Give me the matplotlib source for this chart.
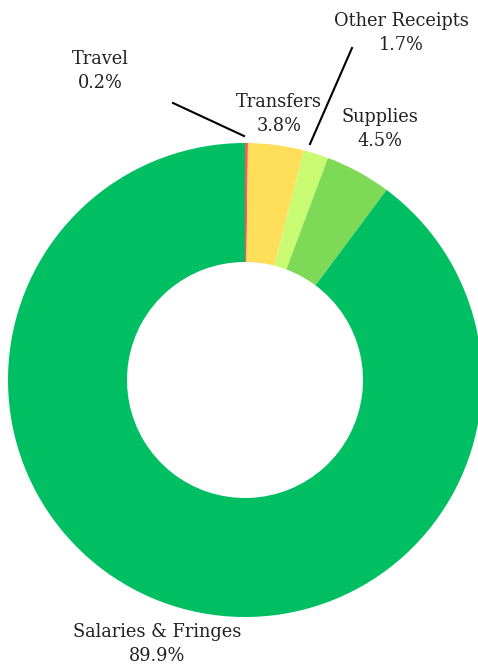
import matplotlib
matplotlib.use("Agg")
import matplotlib.pyplot as plt

categories = ["Travel", "Transfers", "Other Receipts", "Supplies", "Salaries & Fringes"]
values = [0.2, 3.8, 1.7, 4.5, 89.9]
labels_pct = ["0.2%", "3.8%", "1.7%", "4.5%", "89.9%"]
colors = ["#FF5757", "#FFDE59", "#C9FB72", "#7ED957", "#00BF63"]

W, H = 478, 666
fig = plt.figure(figsize=(W / 100, H / 100), dpi=100)
ax = fig.add_axes([0, 0, 1, 1])

cx, cy, R = 245, 380, 237
# y axis is inverted, so start at -90 (screen top) and go counterclockwise in data (= clockwise on screen)
wedges, _ = ax.pie(values, colors=colors, startangle=-90, counterclock=True,
                   radius=R, center=(cx, cy), frame=True,
                   wedgeprops=dict(width=119, linewidth=0))
ax.set_xlim(0, W)
ax.set_ylim(H, 0)
ax.set_aspect("equal")
ax.axis("off")

font = dict(family="DejaVu Serif", fontsize=12.8, color="#222222", ha="center", va="center")
label_pos = [(100, 71), (279, 114), (401, 33), (380, 129), (157, 644)]
for cat, pct, (x, y) in zip(categories, labels_pct, label_pos):
    ax.text(x, y, f"{cat}\n{pct}", linespacing=1.45, **font)

ax.plot([173, 244], [103, 136], color="black", lw=1.5)
ax.plot([352, 310], [48, 144], color="black", lw=1.5)

fig.savefig("out.png", dpi=100)
